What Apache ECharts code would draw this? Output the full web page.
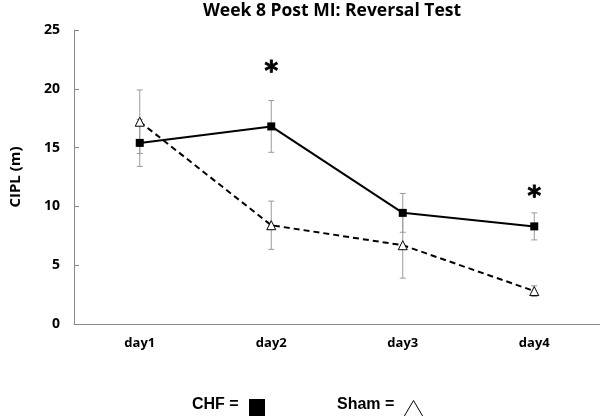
<!DOCTYPE html>
<html>
<head>
<meta charset="utf-8">
<script src="https://cdn.jsdelivr.net/npm/echarts@6/dist/echarts.min.js"></script>
<style>html,body{margin:0;padding:0;background:#fff}#c{width:600px;height:416px}</style>
</head>
<body>
<div id="c"></div>
<script>
var categories = ['day1', 'day2', 'day3', 'day4'];
var chfMean = [15.4, 16.8, 9.45, 8.3];
var chfErr = [2.0, 2.2, 1.65, 1.15];
var shamMean = [17.2, 8.4, 6.7, 2.8];
var shamErr = [2.7, 2.05, 2.8, 0.45];
var sigMarks = [null, 21.9, null, 11.3];
var yTicks = [0, 5, 10, 15, 20, 25];

function errData(mean, err) {
  return mean.map(function (m, i) { return [i, m - err[i], m + err[i]]; });
}

function errRender(params, api) {
  var x = api.value(0);
  var lo = api.coord([x, api.value(1)]);
  var hi = api.coord([x, api.value(2)]);
  var w = 3;
  var st = { stroke: '#9a9a9a', lineWidth: 1 };
  return {
    type: 'group',
    children: [
      { type: 'line', shape: { x1: lo[0], y1: lo[1], x2: hi[0], y2: hi[1] }, style: st },
      { type: 'line', shape: { x1: lo[0] - w, y1: lo[1], x2: lo[0] + w, y2: lo[1] }, style: st },
      { type: 'line', shape: { x1: hi[0] - w, y1: hi[1], x2: hi[0] + w, y2: hi[1] }, style: st }
    ]
  };
}

var chart = echarts.init(document.getElementById('c'), null, { renderer: 'canvas' });
var font = '"Open Sans", sans-serif';
chart.setOption({
  animation: false,
  title: {
    text: 'Week 8 Post MI: Reversal Test',
    left: 327, top: -3, textAlign: 'center',
    textStyle: { fontFamily: font, fontWeight: 'bold', fontSize: 17.5, color: '#000' }
  },
  grid: { left: 67, right: 0, top: 30, bottom: 92 },
  xAxis: {
    type: 'category',
    data: categories,
    boundaryGap: true,
    axisLine: { lineStyle: { color: '#8a8a8a', width: 1 } },
    axisTick: { show: false },
    axisLabel: { margin: 13, fontFamily: font, fontWeight: 'bold', fontSize: 13, color: '#000' }
  },
  yAxis: {
    type: 'value',
    min: 0, max: 25, interval: 5,
    name: 'CIPL (m)',
    nameLocation: 'middle',
    nameRotate: 90,
    nameGap: 51,
    nameTextStyle: { fontFamily: font, fontWeight: 'bold', fontSize: 15, color: '#000' },
    axisLine: { show: true, lineStyle: { color: '#8a8a8a', width: 1 } },
    axisTick: { show: true, inside: true, length: 5, lineStyle: { color: '#8a8a8a' } },
    splitLine: { show: false },
    axisLabel: {
      margin: 14, fontFamily: font, fontWeight: 'bold', fontSize: 14, color: '#000',
      formatter: function (v) { return yTicks.indexOf(v) >= 0 ? String(v) : ''; }
    }
  },
  series: [
    { type: 'custom', name: 'CHF err', renderItem: errRender, data: errData(chfMean, chfErr), z: 1, silent: true },
    { type: 'custom', name: 'Sham err', renderItem: errRender, data: errData(shamMean, shamErr), z: 1, silent: true },
    {
      type: 'line', name: 'Sham', data: shamMean, z: 3,
      symbol: 'triangle', symbolSize: 9,
      lineStyle: { color: '#000', width: 2, type: [6, 4] },
      itemStyle: { color: '#fff', borderColor: '#000', borderWidth: 1 }
    },
    {
      type: 'line', name: 'CHF', data: chfMean, z: 4,
      symbol: 'rect', symbolSize: 8,
      lineStyle: { color: '#000', width: 2 },
      itemStyle: { color: '#000', borderColor: '#000', borderWidth: 0 }
    },
    {
      type: 'scatter', name: 'sig', data: sigMarks, symbolSize: 1, z: 5, silent: true,
      itemStyle: { color: '#fff', opacity: 1 },
      label: {
        show: true, position: 'inside', formatter: '*', offset: [0, 7], opacity: 1,
        textBorderWidth: 0.8, textBorderColor: '#000',
        fontFamily: '"DejaVu Sans", sans-serif', fontWeight: 'bold', fontSize: 26, color: '#000'
      }
    }
  ],
  graphic: [
    { type: 'text', left: 192, top: 397, style: { text: 'CHF =', font: 'bold 16px "Liberation Sans", Arial, sans-serif', fill: '#000' } },
    { type: 'rect', left: 249, top: 399, shape: { width: 16, height: 17 }, style: { fill: '#000' } },
    { type: 'text', left: 337, top: 397, style: { text: 'Sham =', font: 'bold 16px "Liberation Sans", Arial, sans-serif', fill: '#000' } },
    { type: 'polygon', left: 403, top: 400, shape: { points: [[10, 0], [20, 17], [0, 17]] }, style: { fill: '#fff', stroke: '#000', lineWidth: 1 } }
  ]
});
</script>
</body>
</html>
